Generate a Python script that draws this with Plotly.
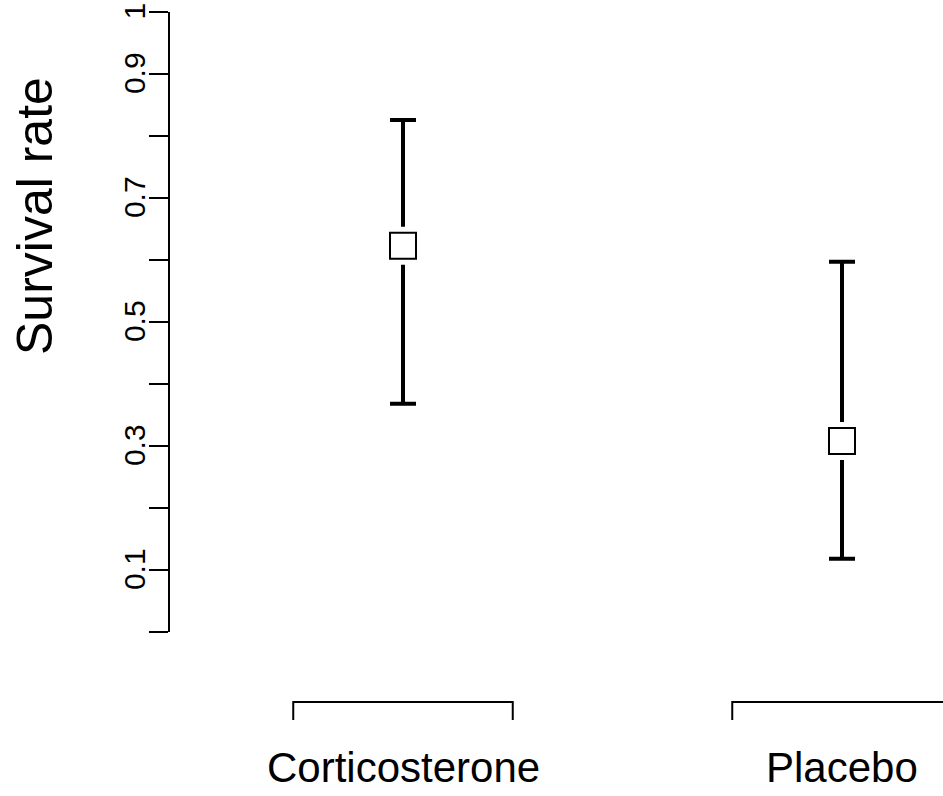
import plotly.graph_objects as go

# ---- data ----
groups = ["Corticosterone", "Placebo"]
group_pos = [1, 2]
survival = [0.623, 0.308]
ci_upper = [0.826, 0.597]
ci_lower = [0.368, 0.118]
tick_vals = [0, 0.1, 0.2, 0.3, 0.4, 0.5, 0.6, 0.7, 0.8, 0.9, 1.0]
tick_text = ["0", "0.1", "", "0.3", "", "0.5", "", "0.7", "", "0.9", "1"]
y_title = "Survival rate"

FONT = "Liberation Sans, Arial, Helvetica, sans-serif"
W, H = 943, 796
ML, MT = 170, 12
plot_h = 620
MB = H - MT - plot_h
plot_w = W - ML
px_per_unit = 439.0
x0 = 1 - (403 - 170) / px_per_unit
x1 = x0 + plot_w / px_per_unit

fig = go.Figure()

# error bars with white halo marker
fig.add_trace(go.Scatter(
    x=group_pos, y=survival, mode="markers",
    marker=dict(symbol="square", size=38, color="white", line=dict(width=0)),
    error_y=dict(type="data", symmetric=False,
                 array=[u - s for u, s in zip(ci_upper, survival)],
                 arrayminus=[s - l for s, l in zip(survival, ci_lower)],
                 color="black", thickness=4, width=13),
    hoverinfo="skip", showlegend=False, cliponaxis=False))

fig.add_trace(go.Scatter(
    x=group_pos, y=survival, mode="markers",
    marker=dict(symbol="square", size=26, color="white", line=dict(width=2, color="black")),
    showlegend=False, cliponaxis=False))

# invisible trace carrying the label axis
fig.add_trace(go.Scatter(
    x=group_pos, y=survival, yaxis="y2", mode="markers",
    marker=dict(size=1, color="rgba(0,0,0,0)"), hoverinfo="skip", showlegend=False))

def py(pix):
    return (632 - pix) / plot_h

# brackets under each group
for xp in group_pos:
    fig.add_shape(type="path", xref="x", yref="paper",
                  path=f"M {xp-0.25} {py(720)} L {xp-0.25} {py(702)} L {xp+0.25} {py(702)} L {xp+0.25} {py(720)}",
                  line=dict(color="black", width=2))

for g, xp in zip(groups, group_pos):
    fig.add_annotation(x=xp, y=py(768), xref="x", yref="paper", text=g,
                       showarrow=False, font=dict(family=FONT, size=42, color="black"),
                       xanchor="center", yanchor="middle")

fig.add_annotation(x=(35 - 170) / plot_w, y=py(216), xref="paper", yref="paper",
                   text=y_title, textangle=-90, showarrow=False,
                   font=dict(family=FONT, size=50, color="black"),
                   xanchor="center", yanchor="middle", borderpad=0)

fig.update_layout(
    width=W, height=H,
    margin=dict(l=ML, r=0, t=MT, b=MB, pad=0, autoexpand=False),
    plot_bgcolor="white", paper_bgcolor="white",
    font=dict(family=FONT, color="black"),
    xaxis=dict(range=[x0, x1], visible=False, showgrid=False, zeroline=False, automargin=False),
    yaxis=dict(range=[0, 1], tickmode="array", tickvals=tick_vals, showticklabels=False,
               ticks="outside", ticklen=19, tickwidth=2, tickcolor="black",
               showline=True, linewidth=2, linecolor="black", automargin=False,
               showgrid=False, zeroline=False),
    yaxis2=dict(range=[0.006, 1.006], overlaying="y", side="left", tickmode="array",
                tickvals=tick_vals, ticktext=tick_text,
                ticks="outside", ticklen=12, tickcolor="rgba(0,0,0,0)",
                showline=False, showgrid=False, zeroline=False, automargin=False,
                tickangle=-90, ticklabeloverflow="allow",
                tickfont=dict(family=FONT, size=30, color="black")),
)

fig.write_html("out.html", config={"displayModeBar": False},
               post_script="document.body.style.margin='0px';document.body.style.overflow='hidden';")
